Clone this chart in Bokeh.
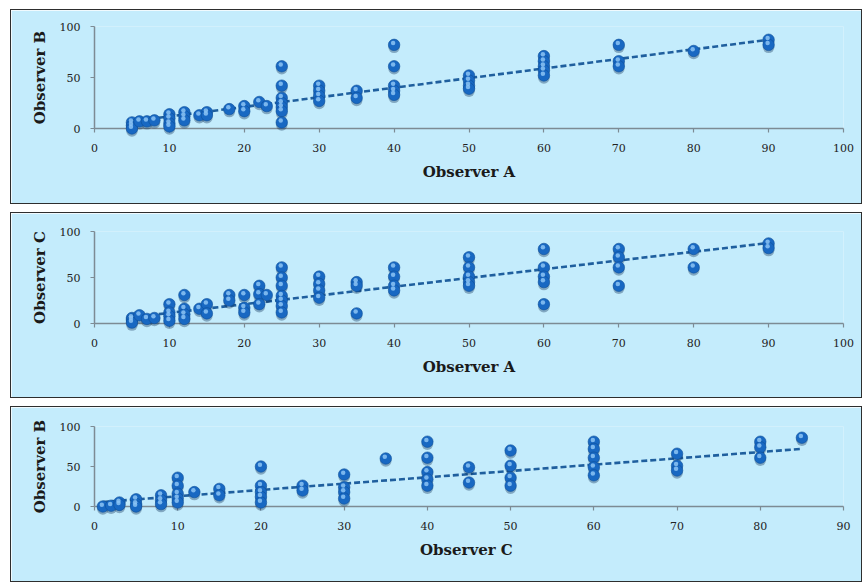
from bokeh.plotting import figure
from bokeh.layouts import column
from bokeh.models import Range1d, FixedTicker, ColumnDataSource
from bokeh.transform import dodge
from bokeh.embed import file_html
from bokeh.resources import INLINE

# ---------------- data ----------------
# Panel 1: Observer A (x) vs Observer B (y)
ab_x = [5, 5, 5, 6, 7, 8, 10, 10, 10, 10, 12, 12, 12, 14, 15, 15, 18, 20, 20, 22, 23,
        25, 25, 25, 25, 25, 25, 25, 30, 30, 30, 30, 35, 35, 40, 40, 40, 40, 40,
        50, 50, 50, 50, 60, 60, 60, 60, 60, 70, 70, 70, 80, 90, 90]
ab_y = [6, 3, 0, 7, 7, 8, 14, 10, 5, 2, 16, 12, 8, 13, 16, 13, 19, 22, 17, 26, 22,
        61, 42, 30, 25, 21, 17, 6, 42, 37, 32, 27, 37, 30, 82, 61, 42, 37, 33,
        52, 47, 42, 39, 71, 66, 61, 57, 52, 82, 66, 61, 76, 87, 82]

# Panel 2: Observer A (x) vs Observer C (y)
ac_x = [5, 5, 5, 6, 7, 8, 10, 10, 10, 10, 12, 12, 12, 12, 14, 15, 15, 18, 18, 20, 20, 20,
        22, 22, 22, 23, 25, 25, 25, 25, 25, 25, 25, 30, 30, 30, 30, 35, 35, 35,
        40, 40, 40, 40, 50, 50, 50, 50, 50, 60, 60, 60, 60, 60, 70, 70, 70, 70,
        80, 80, 90, 90]
ac_y = [6, 4, 1, 9, 5, 6, 21, 12, 8, 3, 31, 16, 10, 5, 16, 21, 11, 31, 25, 31, 17, 12,
        41, 32, 21, 31, 61, 50, 41, 30, 25, 19, 12, 51, 43, 36, 28, 45, 41, 11,
        61, 51, 41, 36, 72, 61, 51, 45, 41, 81, 61, 51, 45, 21, 81, 72, 61, 41,
        81, 61, 87, 82]

# Panel 3: Observer C (x) vs Observer B (y)
cb_x = [1, 2, 3, 3, 5, 5, 5, 8, 8, 8, 10, 10, 10, 10, 10, 12, 15, 15, 20, 20, 20, 20, 20,
        25, 25, 30, 30, 30, 30, 35, 40, 40, 40, 40, 40, 45, 45, 50, 50, 50, 50,
        60, 60, 60, 60, 60, 70, 70, 70, 80, 80, 80, 85]
cb_y = [0, 1, 5, 2, 9, 3, 0, 14, 8, 3, 36, 26, 16, 10, 5, 18, 22, 14, 50, 26, 18, 12, 5,
        26, 20, 40, 24, 18, 10, 60, 81, 61, 43, 34, 26, 49, 30, 70, 51, 36, 26,
        81, 72, 61, 49, 39, 66, 51, 45, 81, 74, 61, 86]

# linear trend lines (slope, intercept)
trend_ab = [0.94, 2.4]
trend_ac = [0.95, 2.0]
trend_cb = [0.79, 4.9]

ticks_a = [0, 10, 20, 30, 40, 50, 60, 70, 80, 90, 100]
ticks_c = [0, 10, 20, 30, 40, 50, 60, 70, 80, 90]
ticks_y = [0, 50, 100]

labels = [("Observer A", "Observer B"), ("Observer A", "Observer C"), ("Observer  C", "Observer B")]

# ---------------- styling ----------------
BG = "#c4ecfc"
AXIS = "#7d8b94"
DOT = "#1868c2"
DOT_LINE = "#0e4f98"
SHADOW = "#0a2b52"
HILITE = "#8cc4f5"
TREND = "#1f5f9e"
W = 852
LEFT = 83


def panel(xs, ys, trend, xlab, ylab, xticks, height, top, bottom, right):
    x_max = xticks[-1]
    p = figure(width=W, height=height, x_range=Range1d(0, x_max), y_range=Range1d(0, 100),
               output_backend="svg", toolbar_location=None,
               min_border_left=LEFT, min_border_right=right,
               min_border_top=top, min_border_bottom=bottom,
               background_fill_color=BG, border_fill_color=BG, outline_line_color=None,
               styles={"border": "1.5px solid #2e2e2e"})
    p.grid.visible = False

    frame_w = W - LEFT - right
    frame_h = height - top - bottom
    px_x = frame_w / x_max
    px_y = frame_h / 100.0

    # trend line spanning the data
    x0, x1 = min(xs), max(xs)
    tsrc = ColumnDataSource(dict(x=[x0, x1], y=[trend[0] * x0 + trend[1], trend[0] * x1 + trend[1]]))
    p.line("x", "y", source=tsrc, line_color=TREND, line_width=2.6, line_dash="6 3")

    src = ColumnDataSource(dict(x=xs, y=ys))
    r1 = p.scatter("x", dodge("y", -2.5 / px_y), source=src, size=11.5, marker="circle",
                   fill_color=SHADOW, fill_alpha=0.35, line_color=None)
    r2 = p.scatter("x", "y", source=src, size=11.5, marker="circle",
                   fill_color=DOT, line_color=DOT_LINE, line_width=0.6)
    r3 = p.scatter(dodge("x", -1.0 / px_x), dodge("y", 1.8 / px_y), source=src, size=4.5,
                   marker="circle", fill_color=HILITE, fill_alpha=0.85, line_color=None)
    for r in (r1, r2, r3):
        r.level = "overlay"

    xa = p.xaxis[0]
    xa.ticker = FixedTicker(ticks=xticks)
    ya = p.yaxis[0]
    ya.ticker = FixedTicker(ticks=ticks_y)
    for ax in (xa, ya):
        ax.axis_line_color = AXIS
        ax.axis_line_width = 1.5
        ax.major_tick_line_color = AXIS
        ax.major_tick_line_width = 1.2
        ax.major_tick_out = 4
        ax.major_tick_in = 0
        ax.minor_tick_line_color = None
        ax.major_label_text_font = "DejaVu Serif"
        ax.major_label_text_font_size = "11px"
        ax.major_label_text_color = "#222222"
        ax.axis_label_text_font = "DejaVu Serif"
        ax.axis_label_text_font_style = "bold"
        ax.axis_label_text_font_size = "15px"
        ax.axis_label_text_color = "#1a1a1a"
    xa.major_label_standoff = 11
    xa.axis_label_standoff = 8
    ya.major_label_standoff = 10
    ya.axis_label_standoff = 8
    xa.axis_label = xlab
    ya.axis_label = ylab
    return p


p1 = panel(ab_x, ab_y, trend_ab, labels[0][0], labels[0][1], ticks_a, 195, 16, 77, 20)
p2 = panel(ac_x, ac_y, trend_ac, labels[1][0], labels[1][1], ticks_a, 186, 18, 76, 20)
p3 = panel(cb_x, cb_y, trend_cb, labels[2][0], labels[2][1], ticks_c, 176, 19, 77, 18)

layout = column(p1, p2, p3, spacing=8, margin=(9, 0, 0, 10))

open("out.html", "w").write(file_html(layout, INLINE))
